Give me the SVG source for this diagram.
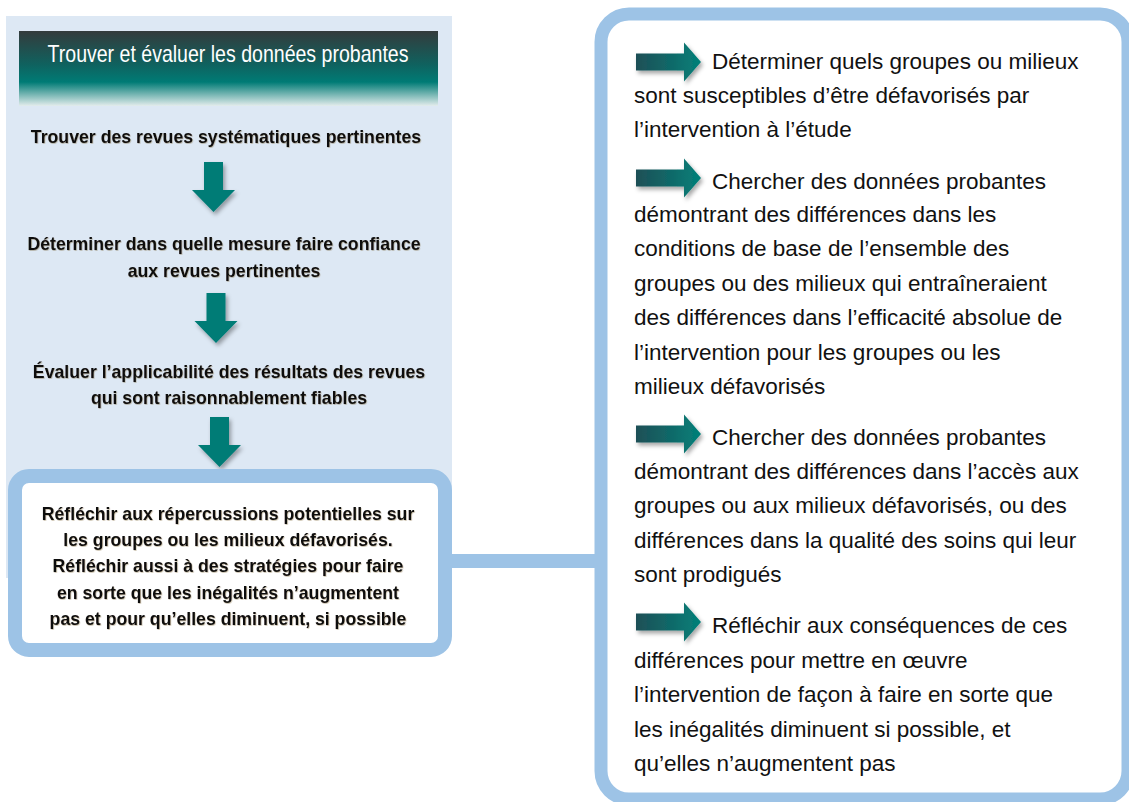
<svg xmlns="http://www.w3.org/2000/svg" width="1129" height="802" viewBox="0 0 1129 802">
<style>
.step{font-family:"Liberation Sans",Arial,sans-serif;font-weight:bold;font-size:17.7px;fill:#111;text-anchor:middle;filter:url(#tsh)}
.title{font-family:"Liberation Sans Narrow","Liberation Sans",sans-serif;font-size:23px;fill:#fff;text-anchor:middle}
.rt{font-family:"Liberation Sans",Arial,sans-serif;font-size:22.5px;fill:#111}
.frame{stroke:#9dc3e6;stroke-width:14}
.down{fill:#047b76;filter:url(#sh)}
.right{fill:url(#ag);filter:url(#sh)}
</style>
<defs>
<linearGradient id="tg" x1="0" y1="0" x2="0" y2="1">
<stop offset="0" stop-color="#343b3c"/>
<stop offset="0.45" stop-color="#0f625f"/>
<stop offset="0.68" stop-color="#007b75"/>
<stop offset="1" stop-color="#e3ecec"/>
</linearGradient>
<linearGradient id="ag" x1="0" y1="0" x2="1" y2="0">
<stop offset="0" stop-color="#1e4f56"/>
<stop offset="1" stop-color="#038079"/>
</linearGradient>
<filter id="sh" x="-30%" y="-30%" width="160%" height="160%">
<feDropShadow dx="2" dy="3" stdDeviation="2" flood-color="#000" flood-opacity="0.35"/>
</filter>
<filter id="tsh" x="-5%" y="-30%" width="110%" height="160%">
<feDropShadow dx="0.6" dy="0.8" stdDeviation="0.6" flood-color="#5a3a10" flood-opacity="0.35"/>
</filter>
<path id="da" d="M-9.5,0 H9.5 V28 H21.5 L0,50 L-21.5,28 H-9.5 Z"/>
<path id="ra" d="M0,-8.5 H48 V-19.5 L65,0 L48,19.5 V8.5 H0 Z"/>
</defs>

<g id="left-panel">
<rect x="6" y="16" width="446" height="562" fill="#dde8f4"/>
</g>

<g id="title">
<rect x="19" y="31" width="419" height="75" fill="url(#tg)"/>
<text class="title" transform="translate(228 62) scale(0.85 1)">Trouver et évaluer les données probantes</text>
</g>

<g id="step1">
<text class="step" x="226" y="143">Trouver des revues systématiques pertinentes</text>
</g>
<g id="step2">
<text class="step" x="224" y="250">Déterminer dans quelle mesure faire confiance</text>
<text class="step" x="224" y="277">aux revues pertinentes</text>
</g>
<g id="step3">
<text class="step" x="229" y="378">Évaluer l’applicabilité des résultats des revues</text>
<text class="step" x="229" y="404">qui sont raisonnablement fiables</text>
</g>

<g id="connectors">
<use href="#da" class="down" x="213.5" y="162"/>
<use href="#da" class="down" x="216" y="293"/>
<use href="#da" class="down" x="219.5" y="417"/>
<rect x="448" y="554" width="152" height="14" fill="#9dc3e6"/>
</g>

<g id="step4">
<rect x="15" y="476" width="430" height="174" rx="14" class="frame" style="fill:#fff"/>
<text class="step" x="228" y="520">Réfléchir aux répercussions potentielles sur</text>
<text class="step" x="228" y="546">les groupes ou les milieux défavorisés.</text>
<text class="step" x="228" y="572">Réfléchir aussi à des stratégies pour faire</text>
<text class="step" x="228" y="599">en sorte que les inégalités n’augmentent</text>
<text class="step" x="228" y="625">pas et pour qu’elles diminuent, si possible</text>
</g>

<g id="right-panel">
<rect x="601" y="14" width="527" height="785" rx="28" class="frame" style="fill:#fff;stroke-width:13"/>
<use href="#ra" class="right" x="636" y="62"/>
<text class="rt" x="712" y="69">Déterminer quels groupes ou milieux</text>
<text class="rt" x="634" y="103">sont susceptibles d’être défavorisés par</text>
<text class="rt" x="634" y="137">l’intervention à l’étude</text>

<use href="#ra" class="right" x="636" y="178"/>
<text class="rt" x="712" y="189">Chercher des données probantes</text>
<text class="rt" x="634" y="222">démontrant des différences dans les</text>
<text class="rt" x="634" y="256">conditions de base de l’ensemble des</text>
<text class="rt" x="634" y="291">groupes ou des milieux qui entraîneraient</text>
<text class="rt" x="634" y="325">des différences dans l’efficacité absolue de</text>
<text class="rt" x="634" y="360">l’intervention pour les groupes ou les</text>
<text class="rt" x="634" y="394">milieux défavorisés</text>

<use href="#ra" class="right" x="636" y="434"/>
<text class="rt" x="712" y="445">Chercher des données probantes</text>
<text class="rt" x="634" y="479">démontrant des différences dans l’accès aux</text>
<text class="rt" x="634" y="513">groupes ou aux milieux défavorisés, ou des</text>
<text class="rt" x="634" y="548">différences dans la qualité des soins qui leur</text>
<text class="rt" x="634" y="582">sont prodigués</text>

<use href="#ra" class="right" x="636" y="622"/>
<text class="rt" x="712" y="633">Réfléchir aux conséquences de ces</text>
<text class="rt" x="634" y="668">différences pour mettre en œuvre</text>
<text class="rt" x="634" y="702">l’intervention de façon à faire en sorte que</text>
<text class="rt" x="634" y="737">les inégalités diminuent si possible, et</text>
<text class="rt" x="634" y="771">qu’elles n’augmentent pas</text>
</g>
</svg>
